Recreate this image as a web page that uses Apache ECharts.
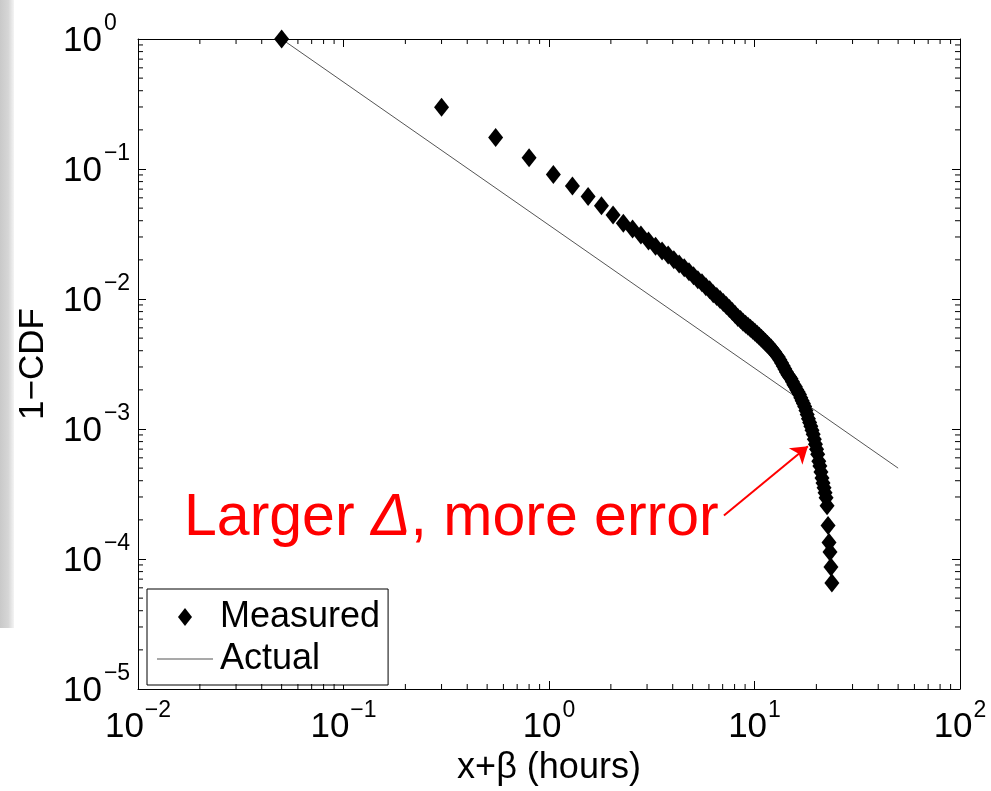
<!DOCTYPE html>
<html>
<head>
<meta charset="utf-8">
<script src="https://cdn.jsdelivr.net/npm/echarts@6/dist/echarts.min.js"></script>
<style>
html,body{margin:0;padding:0;background:#fff;}
#chart{width:991px;height:791px;}
</style>
</head>
<body>
<div id="chart"></div>
<script>
// ---- data ----
const xValues = [0.05,0.3,0.55,0.8,1.05,1.3,1.55,1.8,2.05,2.3,2.55,2.8,3.05,3.3,3.55,3.8,4.05,4.3,4.55,4.8,
  5.05,5.3,5.55,5.8,6.05,6.3,6.55,6.8,7.05,7.3,7.55,7.8,8.05,8.3,8.55,8.8,9.05,9.3,9.55,9.8,
  10.05,10.3,10.55,10.8,11.05,11.3,11.55,11.8,12.05,12.3,12.55,12.8,13.05,13.3,13.55,13.8,14.05,14.3,14.55,14.8,
  15.05,15.3,15.55,15.8,16.05,16.3,16.55,16.8,17.05,17.3,17.55,17.8,18.05,18.3,18.55,18.8,19.05,19.3,19.55,19.8,
  20.05,20.3,20.55,20.8,21.05,21.3,21.55,21.8,22.05,22.3,22.55,22.8,23.05,23.3,23.55,23.8];
const measured = [1,0.298,0.175,0.122,0.0908,0.0741,0.0614,0.0522,0.0442,0.0382,0.0346,
  0.0310,0.0279,0.0255,0.0234,0.0218,0.0200,0.0186,0.0174,0.0162,0.0151,
  0.01406,0.01334,0.01243,0.01179,0.01099,0.01043,0.00990,0.00939,0.00891,0.00845,
  0.00802,0.00761,0.00722,0.00697,0.00661,0.00638,0.00616,0.00595,0.00574,0.00554,
  0.00535,0.00517,0.00499,0.00482,0.00465,0.00449,0.00434,0.00419,0.00404,0.00390,
  0.00370,0.00358,0.00339,0.00322,0.00305,0.00290,0.00275,0.00261,0.00252,0.00243,
  0.00231,0.00219,0.00211,0.00200,0.00193,0.00184,0.00174,0.00165,0.00157,0.00149,
  0.00139,0.00129,0.00120,0.00112,0.00105,0.000976,0.000910,0.000833,0.000763,0.000699,
  0.000640,0.000566,0.000519,0.000467,0.000420,0.000385,0.000353,0.000323,0.000296,0.000257,
  0.000181,0.000134,0.000113,0.0000866,0.0000654];
const actualX = [0.05, 50];
const actualY = [1, 0.0005];
const seriesNames = ['Measured', 'Actual'];
const xAxisName = 'x+\u03B2 (hours)';
const yAxisName = '1\u2212CDF';
const tickBase = '10';
const xTickValues = [0.01, 0.1, 1, 10, 100];
const xTickExps = ['\u22122', '\u22121', '0', '1', '2'];
const yTickValues = [0.00001, 0.0001, 0.001, 0.01, 0.1, 1];
const yTickExps = ['\u22125', '\u22124', '\u22123', '\u22122', '\u22121', '0'];
const annotationText = ['Larger ', '\u0394', ', more error'];
const arrowFrom = [7.1, 0.000216];
const arrowTo = [18.2, 0.000737];
const xRange = [0.01, 100];
const yRange = [0.00001, 1];
const minorMultipliers = [2,3,4,5,6,7,8,9];
const xDecades = [0.01, 0.1, 1, 10];
const yDecades = [0.00001, 0.0001, 0.001, 0.01, 0.1];

// ---- build ----
const FONT = 'Liberation Sans, Arial, Helvetica, sans-serif';
const BASE_SIZE = 35, SUP_SIZE = 23;
const measuredData = xValues.map((x, i) => [x, measured[i]]);
const actualData = actualX.map((x, i) => [x, actualY[i]]);
const xMinor = [];
xDecades.forEach(d => minorMultipliers.forEach(m => xMinor.push([d * m, yRange[0]])));
const yMinor = [];
yDecades.forEach(d => minorMultipliers.forEach(m => yMinor.push([xRange[0], d * m])));
const xTickData = xTickValues.map((v, i) => [v, yRange[0], i]);
const yTickData = yTickValues.map((v, i) => [xRange[0], v, i]);

const mctx = document.createElement('canvas').getContext('2d');
function textW(t, size) { mctx.font = size + 'px ' + FONT; return mctx.measureText(t).width; }
const baseW = textW(tickBase, BASE_SIZE);

function txt(x, y, text, size, align) {
  return { type: 'text', x: x, y: y, style: {
    text: text, fontSize: size, fontFamily: FONT, fill: '#000',
    align: align, textAlign: align, verticalAlign: 'middle', textVerticalAlign: 'middle'
  } };
}

const chart = echarts.init(document.getElementById('chart'), null, { renderer: 'canvas' });
const axisCommon = {
  type: 'log', logBase: 10,
  axisLine: { show: true, onZero: false, lineStyle: { color: '#000', width: 1 } },
  axisTick: { show: true, inside: true, length: 8, lineStyle: { color: '#000', width: 1 } },
  axisLabel: { show: false },
  splitLine: { show: false },
  minorTick: { show: false }
};

const option = {
  animation: false,
  backgroundColor: '#fff',
  textStyle: { fontFamily: FONT },
  grid: { left: 138, right: 31, top: 39, bottom: 96, containLabel: false },
  xAxis: [
    Object.assign({}, axisCommon, {
      position: 'bottom', min: xRange[0], max: xRange[1],
      name: xAxisName, nameLocation: 'middle', nameGap: 61,
      nameTextStyle: { fontSize: 36, color: '#000', fontFamily: FONT }
    }),
    Object.assign({}, axisCommon, { position: 'top', min: xRange[0], max: xRange[1] })
  ],
  yAxis: [
    Object.assign({}, axisCommon, {
      position: 'left', min: yRange[0], max: yRange[1],
      name: yAxisName, nameLocation: 'middle', nameGap: 87,
      nameTextStyle: { fontSize: 35, color: '#000', fontFamily: FONT }
    }),
    Object.assign({}, axisCommon, { position: 'right', min: yRange[0], max: yRange[1] })
  ],
  legend: {
    left: 147, top: 589,
    orient: 'vertical',
    padding: [10, 8, 8, 10],
    itemWidth: 56, itemHeight: 18, itemGap: 6,
    backgroundColor: '#fff',
    borderColor: '#000', borderWidth: 1, borderRadius: 0,
    selectedMode: false,
    textStyle: { fontSize: 36, lineHeight: 36, color: '#000', fontFamily: FONT, padding: [0, 0, 0, 2] },
    data: [
      { name: seriesNames[0], icon: 'path://M0,-9L7,0L0,9L-7,0Z', itemStyle: { color: '#000', opacity: 1 } },
      { name: seriesNames[1], icon: 'path://M0,0L56,0L56,1L0,1Z', itemStyle: { color: '#555' } }
    ]
  },
  graphic: [
    {
      type: 'rect', left: 0, top: 0, z: -10, silent: true,
      shape: { width: 14, height: 628 },
      style: {
        fill: new echarts.graphic.LinearGradient(0, 0, 1, 0, [
          { offset: 0, color: '#c9c9c9' }, { offset: 0.6, color: '#d6d6d6' }, { offset: 1, color: '#f4f4f4' }
        ])
      }
    },
    {
      type: 'text', left: 184, top: 489, z: 100, silent: true,
      style: {
        text: annotationText[0] + '{i|' + annotationText[1] + '}' + annotationText[2],
        fontSize: 59, fontFamily: FONT, fill: '#ff0000',
        rich: { i: { fontSize: 59, fontFamily: FONT, fontStyle: 'italic', fill: '#ff0000', color: '#ff0000' } }
      }
    }
  ],
  series: [
    {
      name: seriesNames[1], type: 'line', xAxisIndex: 0, yAxisIndex: 0,
      data: actualData, symbol: 'none', showSymbol: false,
      lineStyle: { color: '#555', width: 1 }, itemStyle: { color: '#555' },
      z: 2
    },
    {
      name: seriesNames[0], type: 'scatter', xAxisIndex: 0, yAxisIndex: 0,
      data: measuredData, symbol: 'diamond', symbolSize: [15, 19],
      itemStyle: { color: '#000', opacity: 1 }, z: 3
    },
    {
      name: 'annotationArrow', type: 'line', xAxisIndex: 0, yAxisIndex: 0,
      data: [], symbol: 'none', z: 6,
      markLine: {
        silent: true, symbol: ['none', 'arrow'], symbolSize: 16,
        label: { show: false },
        lineStyle: { color: '#ff0000', width: 2, type: 'solid', opacity: 1 },
        itemStyle: { color: '#ff0000' },
        data: [[{ coord: arrowFrom }, { coord: arrowTo }]]
      }
    },
    {
      type: 'custom', name: 'xminor', xAxisIndex: 0, yAxisIndex: 0, silent: true, z: 4, clip: false,
      data: xMinor,
      renderItem: function (params, api) {
        const v = api.value(0);
        const b = api.coord([v, yRange[0]]);
        const t = api.coord([v, yRange[1]]);
        return { type: 'group', children: [
          { type: 'line', shape: { x1: b[0], y1: b[1], x2: b[0], y2: b[1] - 5 }, style: { stroke: '#000', lineWidth: 1 } },
          { type: 'line', shape: { x1: t[0], y1: t[1], x2: t[0], y2: t[1] + 5 }, style: { stroke: '#000', lineWidth: 1 } }
        ]};
      }
    },
    {
      type: 'custom', name: 'yminor', xAxisIndex: 0, yAxisIndex: 0, silent: true, z: 4, clip: false,
      data: yMinor,
      renderItem: function (params, api) {
        const v = api.value(1);
        const l = api.coord([xRange[0], v]);
        const r = api.coord([xRange[1], v]);
        return { type: 'group', children: [
          { type: 'line', shape: { x1: l[0], y1: l[1], x2: l[0] + 5, y2: l[1] }, style: { stroke: '#000', lineWidth: 1 } },
          { type: 'line', shape: { x1: r[0], y1: r[1], x2: r[0] - 5, y2: r[1] }, style: { stroke: '#000', lineWidth: 1 } }
        ]};
      }
    },
    {
      // x tick labels 10^e placed through the x scale
      type: 'custom', name: 'xTickLabels', xAxisIndex: 0, yAxisIndex: 0, silent: true, z: 5, clip: false,
      data: xTickData,
      renderItem: function (params, api) {
        const i = api.value(2);
        const p = api.coord([api.value(0), yRange[0]]);
        const sup = xTickExps[i];
        const supW = textW(sup, SUP_SIZE);
        const left = p[0] - (baseW + 1 + supW) / 2;
        return { type: 'group', children: [
          txt(left, p[1] + 38, tickBase, BASE_SIZE, 'left'),
          txt(left + baseW + 1, p[1] + 22, sup, SUP_SIZE, 'left')
        ]};
      }
    },
    {
      // y tick labels 10^e placed through the y scale
      type: 'custom', name: 'yTickLabels', xAxisIndex: 0, yAxisIndex: 0, silent: true, z: 5, clip: false,
      data: yTickData,
      renderItem: function (params, api) {
        const i = api.value(2);
        const p = api.coord([xRange[0], api.value(1)]);
        const left = p[0] - 75;
        return { type: 'group', children: [
          txt(left, p[1] + 2, tickBase, BASE_SIZE, 'left'),
          txt(left + baseW + 2, p[1] - 15.5, yTickExps[i], SUP_SIZE, 'left')
        ]};
      }
    }
  ]
};
chart.setOption(option);
</script>
</body>
</html>
